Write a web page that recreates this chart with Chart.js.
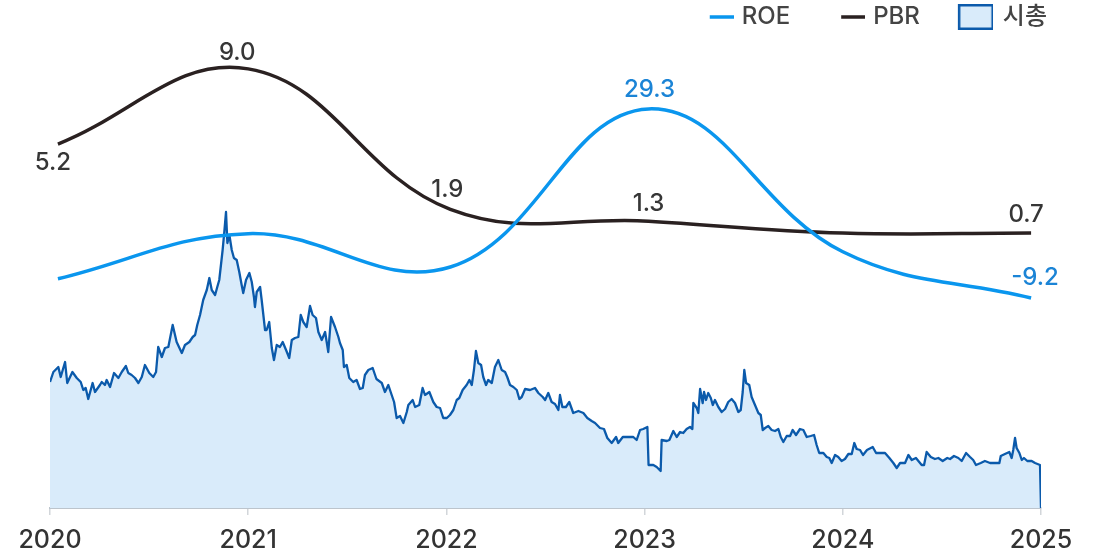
<!DOCTYPE html>
<html><head><meta charset="utf-8">
<script src="https://cdn.jsdelivr.net/npm/chart.js@4.4.1/dist/chart.umd.min.js"></script>
<style>html,body{margin:0;padding:0;background:#fff}#wrap{width:1097px;height:557px}</style>
</head><body><div id="wrap"><canvas id="c" width="1097" height="557"></canvas></div>
<script>
// ---- data ----
const yearTicks = [2020, 2021, 2022, 2023, 2024, 2025];
const ratioYears = [2020.04, 2021.0, 2022.02, 2023.02, 2024.0, 2024.95];
const roeValues = [-5.3, 3.9, -2.9, 29.3, 0.2, -9.2];
const pbrValues = [5.2, 9.0, 1.9, 1.3, 0.7, 0.7];
const roeLabelIdx = [3, 5];
const pbrLabelIdx = [0, 1, 2, 3, 5];
const capYears = [
2020.000,2020.017,2020.042,2020.054,2020.076,2020.087,2020.113,2020.135,2020.155,2020.168,
2020.180,2020.193,2020.215,2020.227,2020.252,2020.261,2020.277,2020.286,2020.303,2020.323,
2020.345,2020.362,2020.383,2020.395,2020.412,2020.429,2020.446,2020.463,2020.479,2020.501,
2020.521,2020.535,2020.546,2020.564,2020.580,2020.597,2020.619,2020.639,2020.665,2020.681,
2020.703,2020.720,2020.732,2020.743,2020.757,2020.773,2020.791,2020.804,2020.816,2020.833,
2020.844,2020.854,2020.871,2020.879,2020.888,2020.895,2020.905,2020.917,2020.928,2020.942,
2020.955,2020.967,2020.975,2020.989,2021.006,2021.018,2021.029,2021.034,2021.043,2021.060,
2021.068,2021.085,2021.093,2021.106,2021.119,2021.130,2021.144,2021.160,2021.174,2021.191,
2021.207,2021.220,2021.236,2021.253,2021.265,2021.278,2021.295,2021.312,2021.325,2021.342,
2021.354,2021.371,2021.388,2021.404,2021.418,2021.438,2021.455,2021.463,2021.477,2021.483,
2021.497,2021.510,2021.530,2021.547,2021.564,2021.578,2021.589,2021.606,2021.628,2021.647,
2021.674,2021.690,2021.707,2021.724,2021.736,2021.749,2021.766,2021.783,2021.800,2021.808,
2021.830,2021.842,2021.863,2021.880,2021.892,2021.914,2021.934,2021.951,2021.968,2021.984,
2022.002,2022.018,2022.035,2022.052,2022.065,2022.082,2022.102,2022.116,2022.128,2022.139,
2022.149,2022.161,2022.175,2022.186,2022.200,2022.211,2022.229,2022.245,2022.262,2022.279,
2022.296,2022.307,2022.321,2022.338,2022.355,2022.368,2022.380,2022.397,2022.422,2022.447,
2022.464,2022.486,2022.498,2022.514,2022.531,2022.548,2022.565,2022.573,2022.585,2022.603,
2022.620,2022.640,2022.666,2022.691,2022.711,2022.733,2022.750,2022.775,2022.795,2022.812,
2022.834,2022.856,2022.867,2022.890,2022.918,2022.943,2022.960,2022.977,2022.993,2023.014,
2023.020,2023.044,2023.061,2023.081,2023.086,2023.112,2023.125,2023.145,2023.162,2023.179,
2023.195,2023.212,2023.229,2023.241,2023.246,2023.263,2023.271,2023.280,2023.293,2023.300,
2023.310,2023.321,2023.334,2023.344,2023.355,2023.372,2023.389,2023.406,2023.422,2023.439,
2023.456,2023.473,2023.485,2023.495,2023.503,2023.512,2023.528,2023.540,2023.557,2023.574,
2023.586,2023.596,2023.608,2023.624,2023.641,2023.658,2023.675,2023.687,2023.700,2023.717,
2023.734,2023.747,2023.764,2023.784,2023.801,2023.818,2023.838,2023.855,2023.868,2023.881,
2023.902,2023.919,2023.932,2023.944,2023.961,2023.977,2023.994,2024.011,2024.028,2024.045,
2024.058,2024.070,2024.087,2024.102,2024.122,2024.151,2024.168,2024.188,2024.213,2024.235,
2024.255,2024.272,2024.289,2024.314,2024.331,2024.348,2024.369,2024.398,2024.410,2024.423,
2024.444,2024.465,2024.482,2024.504,2024.527,2024.541,2024.561,2024.583,2024.600,2024.622,
2024.642,2024.658,2024.672,2024.696,2024.717,2024.743,2024.768,2024.790,2024.797,2024.818,
2024.840,2024.852,2024.860,2024.869,2024.877,2024.891,2024.903,2024.914,2024.931,2024.953,
2024.970,2024.995,2025.000];
const capValues = [
12.6,13.6,14.1,13.1,14.6,12.5,13.6,13.0,12.6,11.8,
12.0,10.9,12.5,11.6,12.3,12.6,12.3,12.8,12.1,13.5,
13.0,13.6,14.2,13.5,13.3,13.0,12.5,13.1,14.3,13.5,
13.1,13.6,16.1,15.1,16.0,16.1,18.3,16.6,15.5,16.3,
16.6,17.1,17.3,18.3,19.3,20.8,21.8,23.0,21.8,21.3,
22.1,22.8,25.8,27.5,29.6,26.5,27.3,25.8,25.0,24.8,
23.6,22.3,21.5,22.8,23.5,22.6,21.1,20.1,21.6,22.1,
20.8,17.8,17.8,18.6,16.0,14.8,16.3,16.1,16.6,15.8,
15.0,16.8,17.0,17.1,19.3,18.6,18.1,20.2,19.3,19.0,
17.6,16.8,17.6,15.6,19.1,18.1,17.1,16.5,15.8,14.1,
14.3,13.0,12.6,12.8,11.9,12.0,13.3,13.8,14.0,12.9,
12.5,11.6,12.3,11.3,10.6,9.0,9.2,8.5,9.6,10.3,
10.8,10.1,10.3,12.0,11.3,11.6,10.6,10.1,10.0,9.0,
9.0,9.3,9.8,10.8,11.0,11.8,12.3,12.8,12.3,13.8,
15.7,14.5,14.3,13.1,12.3,12.8,12.5,14.1,14.8,13.8,
13.6,13.1,12.3,12.1,11.8,10.9,11.1,11.9,11.8,12.0,
11.5,11.1,10.8,11.5,10.6,10.4,9.8,11.3,10.1,10.1,
10.6,9.5,9.7,9.5,9.0,8.7,8.5,8.0,7.9,7.0,
6.5,7.1,6.5,7.1,7.1,7.1,6.8,7.8,7.9,8.1,
4.3,4.3,4.1,3.7,6.8,6.7,6.8,7.7,7.1,7.6,
7.5,7.9,8.1,7.9,10.5,10.0,9.5,11.9,10.5,11.6,
10.8,11.5,11.0,10.3,10.8,10.1,9.6,9.9,10.6,10.9,
10.5,9.6,9.8,11.6,13.8,12.5,12.3,11.1,10.3,9.5,
9.3,7.8,8.0,8.2,7.8,7.7,7.9,7.1,6.6,7.2,
7.2,7.8,7.3,7.9,7.8,7.1,7.2,7.3,6.3,5.5,
5.5,5.1,5.0,4.5,5.3,5.1,4.7,4.9,5.4,5.4,
6.5,5.9,5.8,5.3,5.8,6.1,5.5,5.5,5.5,5.0,
4.5,4.0,4.5,4.5,5.3,4.8,5.0,4.3,4.3,5.6,
5.1,4.9,5.0,4.7,5.0,4.9,5.2,5.0,4.7,5.5,
5.1,4.8,4.3,4.5,4.7,4.5,4.5,4.5,5.2,5.4,
5.6,5.0,5.8,7.0,6.0,5.5,4.8,5.0,4.7,4.7,
4.5,4.3,0];

// ---- styles ----
const FONT = "Inter, 'Noto Sans CJK KR', sans-serif";
const C_ROE = '#0a96ee', C_ROE_TXT = '#1b84d6', C_PBR = '#2a2121', C_PBR_TXT = '#363636';
const C_CAP_LINE = '#0b5aab', C_CAP_FILL = '#d9ebfa';
Chart.defaults.font.family = FONT;

function legendCanvas(kind, color, fill) {
  const cv = document.createElement('canvas');
  const g = cv.getContext('2d');
  if (kind === 'line') {
    cv.width = 74; cv.height = 6;
    g.fillStyle = color; g.fillRect(50, 1.25, 24, 3.5);
  } else {
    cv.width = 70; cv.height = 26;
    g.fillStyle = fill; g.fillRect(36, 1, 34, 24);
    g.strokeStyle = color; g.lineWidth = 2.5; g.strokeRect(36.25, 1.25, 33.5, 23.5);
  }
  return cv;
}
const markers = [legendCanvas('line', C_ROE), legendCanvas('line', C_PBR), legendCanvas('rect', C_CAP_LINE, C_CAP_FILL)];

const pts = (xs, ys) => xs.map((x, i) => ({x, y: ys[i]}));

const labelStyle = {
  roe: {color: C_ROE_TXT, off: {3: [1, -19], 5: [4, -20]}},
  pbr: {color: C_PBR_TXT, off: {0: [-5, 19], 1: [-11, -16], 2: [-3, -20], 3: [0, -17], 5: [-5, -18]}}
};

const pointLabels = {
  id: 'pointLabels',
  afterDatasetsDraw(chart) {
    const ctx = chart.ctx;
    const defs = [[0, roeLabelIdx, roeValues, labelStyle.roe], [1, pbrLabelIdx, pbrValues, labelStyle.pbr]];
    ctx.save();
    ctx.font = '500 24px ' + FONT;
    ctx.textAlign = 'center';
    ctx.textBaseline = 'middle';
    defs.forEach(([di, idxs, vals, st]) => {
      const meta = chart.getDatasetMeta(di);
      ctx.fillStyle = st.color;
      idxs.forEach(i => {
        const el = meta.data[i];
        const o = st.off[i] || [0, -18];
        ctx.fillText(vals[i].toFixed(1), el.x + o[0], el.y + o[1]);
      });
    });
    ctx.restore();
  }
};

new Chart(document.getElementById('c'), {
  type: 'line',
  data: {
    datasets: [
      {label: 'ROE', data: pts(ratioYears, roeValues), yAxisID: 'yRoe', borderColor: C_ROE, borderWidth: 3.5,
       tension: 0.4, pointRadius: 0, fill: false, clip: false},
      {label: 'PBR', data: pts(ratioYears, pbrValues), yAxisID: 'yPbr', borderColor: C_PBR, borderWidth: 3.5,
       tension: 0.4, pointRadius: 0, fill: false, clip: false},
      {label: '시총', data: pts(capYears, capValues), yAxisID: 'yCap', borderColor: C_CAP_LINE, borderWidth: 2.3,
       backgroundColor: C_CAP_FILL, fill: 'origin', tension: 0, pointRadius: 0, borderJoinStyle: 'round'}
    ]
  },
  options: {
    responsive: false,
    animation: false,
    devicePixelRatio: 1,
    layout: {padding: {left: 0, right: 45, top: 0, bottom: 0}},
    plugins: {
      tooltip: {enabled: false},
      legend: {
        position: 'top', align: 'end',
        labels: {
          usePointStyle: true, pointStyleWidth: 66, boxHeight: 24, padding: 5,
          color: '#444', font: {size: 24, weight: '500', family: FONT},
          generateLabels: (chart) => chart.data.datasets.map((ds, i) => ({
            text: ds.label, pointStyle: markers[i], fontColor: '#444', datasetIndex: i,
            hidden: false, lineWidth: 0, strokeStyle: 'transparent', fillStyle: 'transparent'
          }))
        }
      }
    },
    scales: {
      x: {
        type: 'linear', min: 2020, max: 2025,
        afterFit(s) { s.paddingLeft = 50; s.paddingRight = 56; s.height = 49; },
        ticks: {stepSize: 1, padding: 10, color: '#333', maxRotation: 0, autoSkip: false,
                font: {size: 25, weight: '500', family: FONT},
                callback: (v) => yearTicks.includes(v) ? String(v) : ''},
        grid: {drawOnChartArea: false, drawTicks: true, tickLength: 7, color: '#d2d6da', lineWidth: 1.5},
        border: {display: true, color: '#bcc4cc', width: 2}
      },
      yCap: {display: false, min: 0, max: 46.9},
      yPbr: {display: false, min: -13.2, max: 10.51},
      yRoe: {display: false, min: -51.98, max: 43.54}
    }
  },
  plugins: [pointLabels]
});
</script>
</body></html>
